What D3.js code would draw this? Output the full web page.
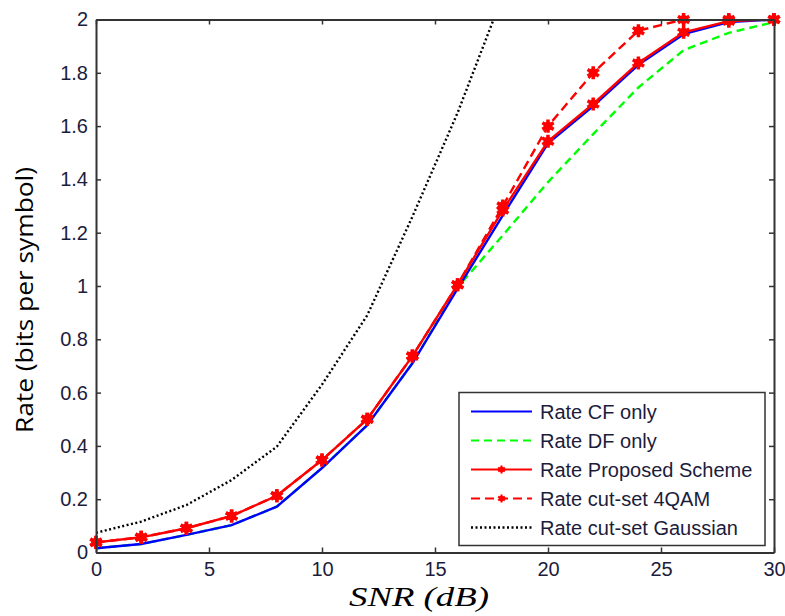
<!DOCTYPE html>
<html>
<head>
<meta charset="utf-8">
<script src="https://cdn.jsdelivr.net/npm/d3@7"></script>
<style>
	body { margin: 0; background: #fff; }
	svg { display: block; }
</style>
</head>
<body>
<div id="chart"></div>
<script>
// values (SNR in dB, rate in bits per symbol)
var snr = [0, 2, 4, 6, 8, 10, 12, 14, 16, 18, 20, 22, 24, 26, 28, 30];
var rateCF = [0.016, 0.032, 0.066, 0.103, 0.172, 0.317, 0.478, 0.71, 0.99, 1.265, 1.535, 1.675, 1.83, 1.945, 1.99, 2.0];
var rateDF = [0.016, 0.032, 0.066, 0.103, 0.172, 0.317, 0.478, 0.71, 0.995, 1.19, 1.39, 1.57, 1.745, 1.885, 1.95, 1.99];
var rateProposed = [0.038, 0.057, 0.091, 0.137, 0.213, 0.347, 0.5, 0.737, 1.005, 1.285, 1.543, 1.683, 1.837, 1.952, 1.994, 2.0];
var rate4QAM = [0.038, 0.057, 0.091, 0.137, 0.213, 0.347, 0.5, 0.737, 1.005, 1.3, 1.6, 1.8, 1.958, 2.0, 2.0, 2.0];
var snrGauss = [0, 2, 4, 6, 8, 10, 12, 14, 16, 18];
var rateGauss = [0.074, 0.116, 0.178, 0.272, 0.397, 0.63, 0.89, 1.26, 1.65, 2.09];

var xTicks = [0, 5, 10, 15, 20, 25, 30];
var yTicks = [0, 0.2, 0.4, 0.6, 0.8, 1, 1.2, 1.4, 1.6, 1.8, 2];

var legendNames = ["Rate CF only", "Rate DF only", "Rate Proposed Scheme", "Rate cut-set 4QAM", "Rate cut-set Gaussian"];

var W = 785, H = 616;
var pL = 96, pR = 774, pT = 19.5, pB = 552.5;

var svg = d3.select('#chart')
	.append('svg')
	.attr('width', W)
	.attr('height', H);

var x = d3.scaleLinear().domain([0, 30]).range([pL, pR]);
var y = d3.scaleLinear().domain([0, 2]).range([pB, pT]);

svg.append('clipPath')
	.attr('id', 'plotclip')
	.append('rect')
	.attr('x', pL)
	.attr('y', pT)
	.attr('width', pR - pL)
	.attr('height', pB - pT);

var series = [
	{ xs: snr, ys: rateDF, color: '#00ff00', dash: '8,5', marker: false },
	{ xs: snr, ys: rateCF, color: '#0000ff', dash: null, marker: false },
	{ xs: snrGauss, ys: rateGauss, color: '#000000', dash: '2,2.5', marker: false },
	{ xs: snr, ys: rate4QAM, color: '#ff0000', dash: '9,5', marker: true },
	{ xs: snr, ys: rateProposed, color: '#ff0000', dash: null, marker: true }
];

var line = d3.line()
	.x(function(d) { return x(d[0]); })
	.y(function(d) { return y(d[1]); });

var plot = svg.append('g').attr('clip-path', 'url(#plotclip)');

var star = d3.symbol().type(d3.symbolAsterisk).size(120);

function drawMarker(g, cx, cy, color, scale) {
	g.append('path')
		.attr('d', star())
		.attr('transform', 'translate(' + cx + ',' + cy + ') scale(' + scale + ')')
		.attr('fill', 'none')
		.attr('stroke', color)
		.attr('stroke-width', 3.5);
	g.append('circle')
		.attr('cx', cx)
		.attr('cy', cy)
		.attr('r', 4.5 * scale)
		.attr('fill', color);
}

series.forEach(function(s) {
	var pts = s.xs.map(function(v, i) { return [v, s.ys[i]]; });
	plot.append('path')
		.datum(pts)
		.attr('d', line)
		.attr('fill', 'none')
		.attr('stroke', s.color)
		.attr('stroke-width', 2.4)
		.attr('stroke-dasharray', s.dash);
	if (s.marker) {
		pts.forEach(function(p) {
			drawMarker(svg, x(p[0]), y(p[1]), s.color, 1);
		});
	}
});

// axes, ticks pointing inward on all four sides
var fmt = function(d) { return String(+d.toFixed(1)); };
var axisColor = '#333';
var labelColor = '#1c1c3c';

var axB = svg.append('g')
	.attr('transform', 'translate(0,' + pB + ')')
	.call(d3.axisBottom(x).tickValues(xTicks).tickSizeInner(-5).tickSizeOuter(0).tickPadding(9).tickFormat(fmt));
var axT = svg.append('g')
	.attr('transform', 'translate(0,' + pT + ')')
	.call(d3.axisTop(x).tickValues(xTicks).tickSizeInner(-5).tickSizeOuter(0).tickFormat(''));
var axL = svg.append('g')
	.attr('transform', 'translate(' + pL + ',0)')
	.call(d3.axisLeft(y).tickValues(yTicks).tickSizeInner(-5).tickSizeOuter(0).tickPadding(8).tickFormat(fmt));
var axR = svg.append('g')
	.attr('transform', 'translate(' + pR + ',0)')
	.call(d3.axisRight(y).tickValues(yTicks).tickSizeInner(-5).tickSizeOuter(0).tickFormat(''));

[axB, axT, axL, axR].forEach(function(a) {
	a.selectAll('.domain').attr('stroke', axisColor).attr('stroke-width', 2);
	a.selectAll('.tick line').attr('stroke', axisColor).attr('stroke-width', 1.5);
	a.selectAll('.tick text')
		.attr('fill', labelColor)
		.attr('font-family', 'Liberation Sans, Arial, sans-serif')
		.attr('font-size', '20px');
});

// legend
var lg = svg.append('g');
lg.append('rect')
	.attr('x', 459)
	.attr('y', 392.5)
	.attr('width', 306)
	.attr('height', 153)
	.attr('fill', '#fff')
	.attr('stroke', axisColor)
	.attr('stroke-width', 1.5);

var legendY = d3.scalePoint().domain(legendNames).range([411.5, 527.5]);
var legendSeries = [series[1], series[0], series[4], series[3], series[2]];

legendNames.forEach(function(name, i) {
	var s = legendSeries[i];
	var ly = legendY(name);
	lg.append('line')
		.attr('x1', 471)
		.attr('x2', 532)
		.attr('y1', ly)
		.attr('y2', ly)
		.attr('stroke', s.color)
		.attr('stroke-width', i == 4 ? 2.5 : 2.2)
		.attr('stroke-dasharray', s.dash);
	if (s.marker) {
		drawMarker(lg, 501.5, ly, s.color, 0.6);
	}
	lg.append('text')
		.attr('x', 540)
		.attr('y', ly)
		.attr('dy', '0.36em')
		.attr('fill', labelColor)
		.attr('font-family', 'Liberation Sans, Arial, sans-serif')
		.attr('font-size', '20px')
		.text(name);
});

// axis titles
svg.append('text')
	.attr('transform', 'translate(33,300) rotate(-90)')
	.attr('text-anchor', 'middle')
	.attr('font-family', 'Open Sans, Noto Sans, sans-serif')
	.attr('font-size', '24px')
	.attr('fill', '#000')
	.attr('textLength', 266)
	.attr('lengthAdjust', 'spacingAndGlyphs')
	.text('Rate (bits per symbol)');

svg.append('text')
	.attr('x', 419)
	.attr('y', 606)
	.attr('text-anchor', 'middle')
	.attr('font-family', 'Liberation Serif, DejaVu Serif, serif')
	.attr('font-style', 'italic')
	.attr('font-size', '28px')
	.attr('fill', '#000')
	.attr('textLength', 140)
	.attr('lengthAdjust', 'spacingAndGlyphs')
	.text('SNR (dB)');
</script>
</body>
</html>
